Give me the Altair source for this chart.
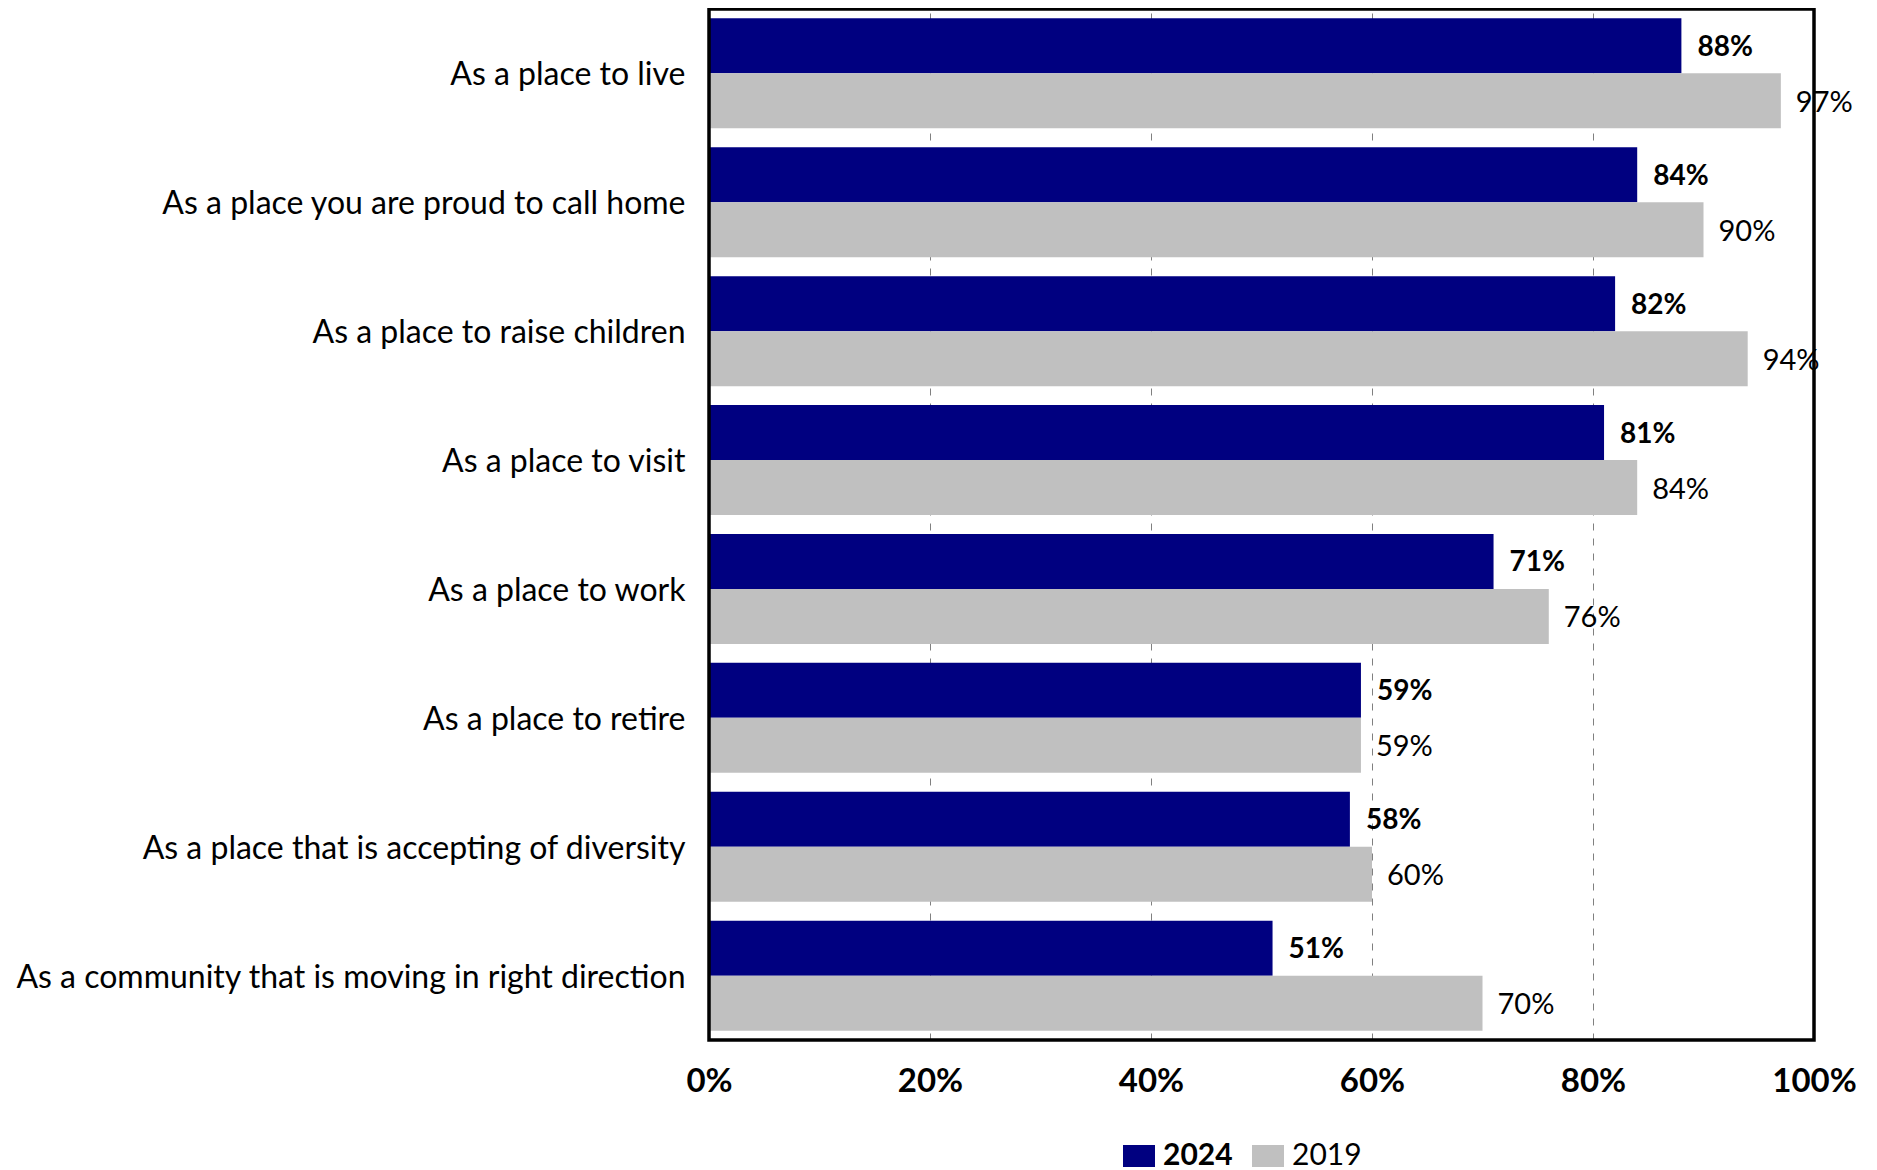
import altair as alt
import pandas as pd

categories = [
    "As a place to live",
    "As a place you are proud to call home",
    "As a place to raise children",
    "As a place to visit",
    "As a place to work",
    "As a place to retire",
    "As a place that is accepting of diversity",
    "As a community that is moving in right direction",
]
values_2024 = [88, 84, 82, 81, 71, 59, 58, 51]
values_2019 = [97, 90, 94, 84, 76, 59, 60, 70]
years = ["2024", "2019"]
colors = ["#000080", "#C0C0C0"]
x_ticks = [0, 20, 40, 60, 80, 100]

rows = []
for c, a, b in zip(categories, values_2024, values_2019):
    rows.append({"category": c, "year": "2024", "value": a})
    rows.append({"category": c, "year": "2019", "value": b})
df = pd.DataFrame(rows)

FONT = "Lato"
W, H = 1105, 1031

base = alt.Chart(df).transform_calculate(
    label="datum.value + '%'"
).encode(
    y=alt.Y(
        "category:N",
        sort=categories,
        title=None,
        scale=alt.Scale(paddingInner=0.1466, paddingOuter=0.0723),
        axis=alt.Axis(
            labelFont=FONT, labelFontSize=32, labelColor="black",
            labelPadding=24, labelOffset=2, ticks=False, domain=False,
            labelLimit=1000,
        ),
    ),
    yOffset=alt.YOffset("year:N", sort=years,
                        scale=alt.Scale(paddingInner=0, paddingOuter=0)),
)

bars = base.mark_bar().encode(
    x=alt.X(
        "value:Q",
        title=None,
        scale=alt.Scale(domain=[0, 100], nice=False),
        axis=alt.Axis(
            values=x_ticks, labelExpr="datum.value + '%'",
            grid=True, gridDash=[7, 8], gridColor="#808080", gridWidth=1,
            ticks=False, domain=False, labelFlush=False, labelOverlap=False,
            labelFont=FONT, labelFontSize=33, labelFontWeight="bold",
            labelColor="black", labelPadding=25,
        ),
    ),
    color=alt.Color(
        "year:N",
        sort=years,
        scale=alt.Scale(domain=years, range=colors),
        legend=alt.Legend(
            title=None, orient="none", legendX=414, legendY=1131,
            direction="horizontal",
            symbolType="M-1,-0.6875H1V0.6875H-1Z", symbolSize=1024,
            symbolStrokeWidth=0, symbolOpacity=1,
            labelFont=FONT, labelFontSize=30, labelColor="black",
            labelOffset=8, columnPadding=19, padding=0,
            labelFontWeight=alt.expr("datum.label == '2024' ? 'bold' : 'normal'"),
        ),
    ),
)

frame = alt.Chart(pd.DataFrame({"f": [0]})).mark_rect(
    filled=False, stroke="black", strokeWidth=3.5
).encode(
    x=alt.value(0), x2=alt.value(W), y=alt.value(0), y2=alt.value(H)
)

text2024 = base.transform_filter("datum.year == '2024'").mark_text(
    align="left", baseline="middle", dx=16, dy=2, font=FONT, fontSize=28,
    fontWeight="bold", color="black",
).encode(x="value:Q", text="label:N")

text2019 = base.transform_filter("datum.year == '2019'").mark_text(
    align="left", baseline="middle", dx=15, dy=2, font=FONT, fontSize=29,
    fontWeight="normal", color="black",
).encode(x="value:Q", text="label:N")

chart = alt.layer(bars, frame, text2024, text2019).properties(
    width=W,
    height=H,
    padding={"left": 701, "top": 1, "right": 42, "bottom": 132},
    autosize=alt.AutoSizeParams(type="none"),
).configure_view(strokeWidth=0)

chart.save("out.html", embed_options={"renderer": "svg", "actions": False})
